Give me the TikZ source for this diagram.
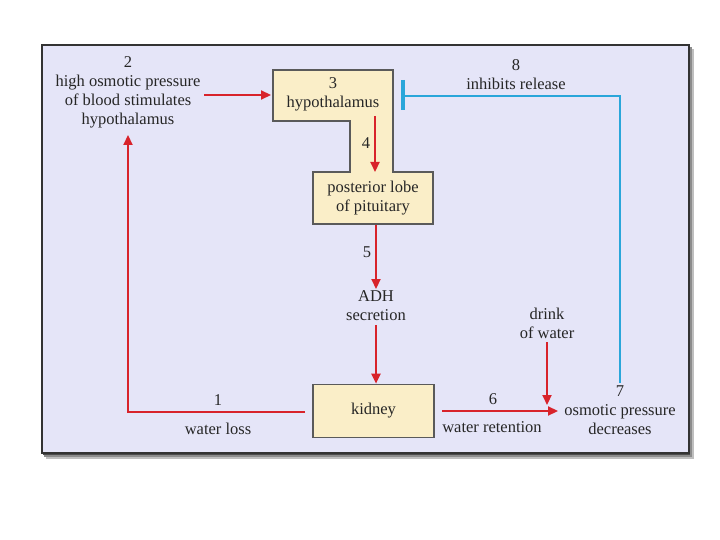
\documentclass[tikz,border=0pt]{standalone}
\usepackage{fontspec}
\setmainfont{Liberation Serif}
\usetikzlibrary{arrows.meta}
\definecolor{panel}{HTML}{E5E5F8}
\definecolor{boxfill}{HTML}{FAEEC8}
\definecolor{arrred}{HTML}{D8232B}
\definecolor{inhblue}{HTML}{2AA6DA}
\definecolor{boxedge}{HTML}{5A5A5A}
\definecolor{txt}{HTML}{262626}
\begin{document}
\begin{tikzpicture}[x=1pt,y=-1pt,
  lbl/.style={font=\fontsize{16.5}{19}\selectfont, text=txt, inner sep=0pt, align=center},
  redarrow/.style={draw=arrred, line width=2.2pt, -{Triangle[length=10pt,width=9pt]}},
  blueline/.style={draw=inhblue, line width=2pt},
  boxshape/.style={draw=boxedge, fill=boxfill, line width=1.6pt, line join=miter}]
\useasboundingbox (0,0) rectangle (720,540);
\fill[white] (0,0) rectangle (720,540);
% shadow
\fill[black!25] (46,49) rectangle (694,459);
\fill[black!45] (44,47) rectangle (692,457);
\fill[black!70] (43,46) rectangle (690,455);
% panel
\draw[fill=panel, draw=black!80, line width=1.5pt] (42,45) rectangle (689,453);

% hypothalamus / pituitary L-shape
\draw[boxshape] (273,70) -- (393,70) -- (393,172) -- (433,172) -- (433,224)
  -- (313,224) -- (313,172) -- (350,172) -- (350,121) -- (273,121) -- cycle;
\node[lbl] (hypo) at (333,94) {3\\hypothalamus};
\node[lbl] (pit) at (373,198) {posterior lobe\\of pituitary};

% kidney
\node[boxshape, minimum width=121pt, minimum height=53pt, inner sep=0pt,
  font=\fontsize{16.5}{19}\selectfont, text=txt] (kid) at (373.5,411) {kidney};

% text labels
\node[lbl] (n2) at (128,92) {2\\high osmotic pressure\\of blood stimulates\\hypothalamus};
\node[lbl] (l4) at (366,143) {4};
\node[lbl] (l5) at (367,252) {5};
\node[lbl] (adh) at (376,306) {ADH\\secretion};
\node[lbl] (l1) at (218,400) {1};
\node[lbl] (wl) at (218,429) {water loss};
\node[lbl] (l6) at (493,399) {6};
\node[lbl] (wr) at (492,427) {water retention};
\node[lbl] (drink) at (547,323) {drink\\of water};
\node[lbl] (n7) at (620,410) {7\\osmotic pressure\\decreases};
\node[lbl] (n8) at (516,75) {8\\inhibits release};

% coordinates
\coordinate (hypoL) at (271,95);
\coordinate (from2) at (204,95);
\coordinate (h4top) at (375,116);
\coordinate (h4bot) at (375,172);
\coordinate (p5top) at (376,225);
\coordinate (p5bot) at (376,289);
\coordinate (adhbot) at (376,325);
\coordinate (wlstart) at (305,412);
\coordinate (wlcorner) at (128,412);
\coordinate (upTip) at (128,135);
\coordinate (wrstart) at (442,411);
\coordinate (wrend) at (558,411);
\coordinate (drinkTop) at (547,342);
\coordinate (drinkTip) at (547,405);
\coordinate (blueB) at (620,383);
\coordinate (blueC) at (620,96);
\coordinate (blueBar) at (403,96);

% red arrows
\draw[redarrow] (from2) -- (hypoL);
\draw[redarrow] (h4top) -- (h4bot);
\draw[redarrow] (p5top) -- (p5bot);
\draw[redarrow] (adhbot) -- (kid.north -| adhbot);
\draw[redarrow] (wlstart) -- (wlcorner) -- (upTip);
\draw[redarrow] (wrstart) -- (wrend);
\draw[redarrow] (drinkTop) -- (drinkTip);

% blue inhibition
\draw[blueline] (blueB) -- (blueC) -- (blueBar);
\draw[draw=inhblue, line width=4pt] (403,80) -- (403,110);
\end{tikzpicture}
\end{document}
